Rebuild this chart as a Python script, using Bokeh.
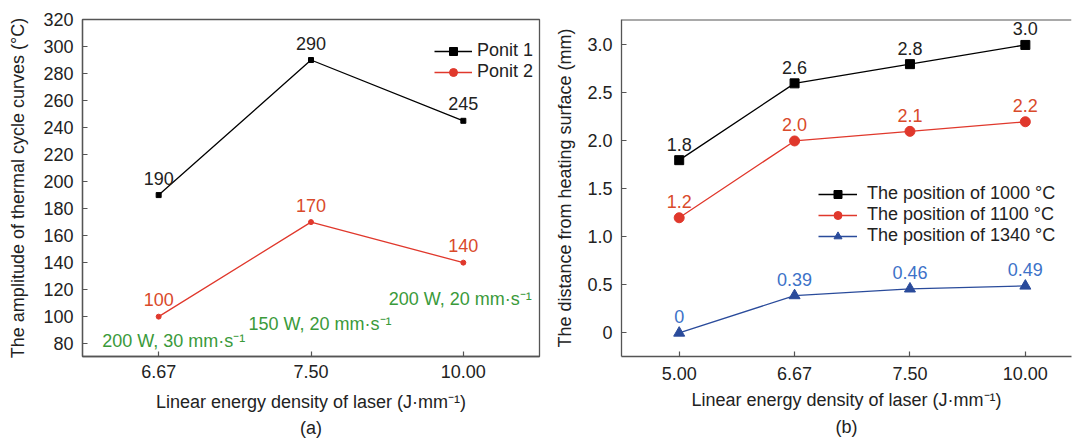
from bokeh.plotting import figure
from bokeh.layouts import row
from bokeh.models import FixedTicker, Legend, LegendItem, Label, Span, Title
from bokeh.embed import file_html
from bokeh.resources import INLINE
from bokeh.core.properties import value

# ---------------- data: panel (a) ----------------
a_categories = ["6.67", "7.50", "10.00"]
a_point1 = [190, 290, 245]
a_point2 = [100, 170, 140]
a_yticks = list(range(80, 321, 20))
a_notes = ["200 W, 30 mm·s⁻¹", "150 W, 20 mm·s⁻¹", "200 W, 20 mm·s⁻¹"]
a_notes_x = [-0.37, 0.59, 1.51]
a_notes_y = [82.0, 94.6, 113.1]

# ---------------- data: panel (b) ----------------
b_categories = ["5.00", "6.67", "7.50", "10.00"]
b_1000 = [1.8, 2.6, 2.8, 3.0]
b_1100 = [1.2, 2.0, 2.1, 2.2]
b_1340 = [0.0, 0.39, 0.46, 0.49]
b_1000_text = ["1.8", "2.6", "2.8", "3.0"]
b_1100_text = ["1.2", "2.0", "2.1", "2.2"]
b_1340_text = ["0", "0.39", "0.46", "0.49"]
b_yticks = [0, 0.5, 1.0, 1.5, 2.0, 2.5, 3.0]
b_ytick_labels = ["0", "0.5", "1.0", "1.5", "2.0", "2.5", "3.0"]

FONT = "Liberation Sans"
AX = "#555555"
TXT = "#222222"
RED_LINE = "#e0382c"
RED_TXT = "#d94a2b"
BLUE_LINE = "#2a4b9b"
BLUE_TXT = "#3d72c8"
GREEN = "#3a9a3a"


def style_axis(ax):
    ax.axis_line_color = AX
    ax.axis_line_width = 1.3
    ax.major_tick_line_color = AX
    ax.major_tick_line_width = 1.2
    ax.major_tick_in = 5
    ax.major_tick_out = 0
    ax.minor_tick_line_color = None
    ax.major_label_text_font = FONT
    ax.major_label_text_font_size = "18px"
    ax.major_label_text_color = TXT
    ax.axis_label_text_font = FONT
    ax.axis_label_text_font_size = "18px"
    ax.axis_label_text_font_style = "normal"
    ax.axis_label_text_color = TXT


def style(p):
    for ax in list(p.xaxis) + list(p.yaxis):
        style_axis(ax)
    p.xgrid.visible = False
    p.ygrid.visible = False
    p.background_fill_color = "white"
    p.border_fill_color = "white"


def caption(text, standoff):
    return Title(text=text, align="center", text_font=FONT, text_font_size="18px",
                 text_font_style="normal", text_color=TXT, standoff=standoff, offset=0)


# ================= panel (a) =================
xa = list(range(len(a_categories)))
p1 = figure(width=548, height=444, x_range=(-0.5, 2.5), y_range=(70.5, 320),
            output_backend="svg", toolbar_location=None, title=None,
            min_border_left=82, min_border_right=9, min_border_top=19, min_border_bottom=85)
style(p1)
p1.outline_line_color = AX
p1.outline_line_width = 1.3
ax1 = p1.xaxis[0]
ay1 = p1.yaxis[0]
ax1.ticker = FixedTicker(ticks=xa)
ax1.major_label_overrides = {i: c for i, c in enumerate(a_categories)}
ay1.ticker = FixedTicker(ticks=a_yticks)
ax1.major_label_standoff = 8
ay1.major_label_standoff = 9
ax1.axis_label = "Linear energy density of laser (J·mm⁻¹)"
ay1.axis_label = "The amplitude of thermal cycle curves (°C)"
ax1.axis_label_standoff = 11
ay1.axis_label_standoff = 12

l1 = p1.line(xa, a_point1, color="black", line_width=1.3)
s1 = p1.scatter(xa, a_point1, marker="square", size=5, color="black")
l2 = p1.line(xa, a_point2, color=RED_LINE, line_width=1.3)
s2 = p1.scatter(xa, a_point2, marker="circle", size=5, color=RED_LINE)

p1.text(xa, a_point1, text=[str(v) for v in a_point1], text_align="center",
        text_baseline="middle", y_offset=-17, text_font=value(FONT),
        text_font_size="18px", text_color=TXT)
p1.text(xa, a_point2, text=[str(v) for v in a_point2], text_align="center",
        text_baseline="middle", y_offset=-17, text_font=value(FONT),
        text_font_size="18px", text_color=RED_TXT)

for t, nx, ny in zip(a_notes, a_notes_x, a_notes_y):
    p1.add_layout(Label(x=nx, y=ny, text=t, text_align="left", text_baseline="middle",
                        text_font=FONT, text_font_size="18px", text_color=GREEN))

leg1 = Legend(items=[LegendItem(label="Ponit 1", renderers=[l1, s1]),
                     LegendItem(label="Ponit 2", renderers=[l2, s2])],
              location=(352, 274), border_line_color=None, background_fill_alpha=0,
              padding=0, margin=0, spacing=0, label_standoff=5, glyph_width=38,
              glyph_height=20, label_height=20, label_text_font=FONT,
              label_text_font_size="18px", label_text_color=TXT)
p1.add_layout(leg1)
p1.add_layout(caption("(a)", 3), "below")

# ================= panel (b) =================
xb = list(range(len(b_categories)))
p2 = figure(width=524, height=444, x_range=(-0.5, 3.4), y_range=(-0.245, 3.265),
            output_backend="svg", toolbar_location=None, title=None,
            min_border_left=73, min_border_right=1, min_border_top=13, min_border_bottom=88)
style(p2)
p2.outline_line_color = None
ax2 = p2.xaxis[0]
ay2 = p2.yaxis[0]
ax2.ticker = FixedTicker(ticks=xb)
ax2.major_label_overrides = {i: c for i, c in enumerate(b_categories)}
ay2.ticker = FixedTicker(ticks=b_yticks)
ay2.major_label_overrides = {t: s for t, s in zip(b_yticks, b_ytick_labels)}
ax2.major_label_standoff = 10
ay2.major_label_standoff = 9
ax2.axis_label = "Linear energy density of laser (J·mm⁻¹)"
ay2.axis_label = "The distance from heating surface (mm)"
ax2.axis_label_standoff = 7
ay2.axis_label_standoff = 9

p2.add_layout(Span(location=3.265, dimension="width", line_color=AX, line_width=2.2))

m1l = p2.line(xb, b_1000, color="black", line_width=1.3)
m1s = p2.scatter(xb, b_1000, marker="square", size=9, color="black")
m2l = p2.line(xb, b_1100, color=RED_LINE, line_width=1.3)
m2s = p2.scatter(xb, b_1100, marker="circle", size=10, color=RED_LINE)
m3l = p2.line(xb, b_1340, color=BLUE_LINE, line_width=1.3)
m3s = p2.scatter(xb, b_1340, marker="triangle", size=11, color=BLUE_LINE)

for vals, txt, col in ((b_1000, b_1000_text, TXT), (b_1100, b_1100_text, RED_TXT),
                       (b_1340, b_1340_text, BLUE_TXT)):
    p2.text(xb, vals, text=txt, text_align="center", text_baseline="middle",
            y_offset=-16, text_font=value(FONT), text_font_size="18px", text_color=col)

leg2 = Legend(items=[LegendItem(label="The position of 1000 °C", renderers=[m1l, m1s]),
                     LegendItem(label="The position of 1100 °C", renderers=[m2l, m2s]),
                     LegendItem(label="The position of 1340 °C", renderers=[m3l, m3s])],
              location=(197, 110), border_line_color=None, background_fill_alpha=0,
              padding=0, margin=0, spacing=0, label_standoff=10, glyph_width=39,
              glyph_height=20, label_height=20, label_text_font=FONT,
              label_text_font_size="18px", label_text_color=TXT)
p2.add_layout(leg2)
p2.add_layout(caption("(b)", 5), "below")

layout = row(p1, p2, spacing=0)
open("out.html", "w").write(file_html(layout, INLINE))
